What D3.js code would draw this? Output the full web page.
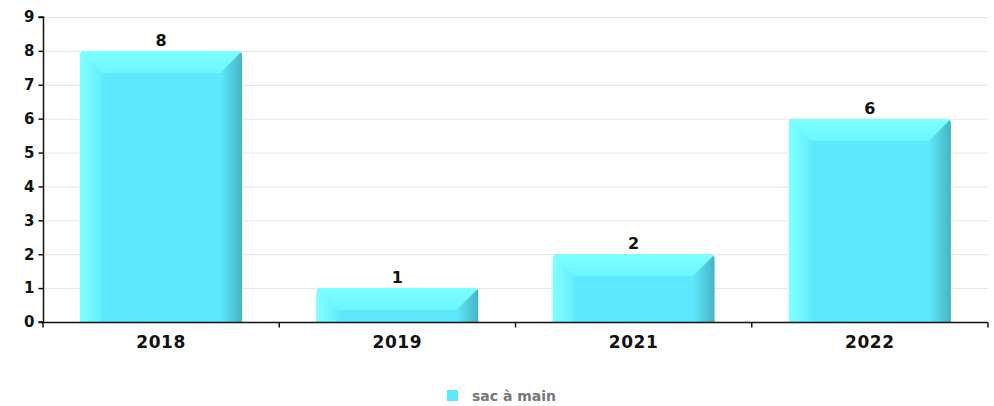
<!DOCTYPE html>
<html><head><meta charset="utf-8">
<script src="https://cdn.jsdelivr.net/npm/d3@7"></script>
<style>body{margin:0;background:#fff}svg{display:block}text{font-family:"DejaVu Sans",sans-serif;font-weight:bold}</style>
</head><body><svg id="c" width="994" height="406"></svg>
<script>
const categories = ["2018","2019","2021","2022"];
const values = [8,1,2,6];
const yTicks = [0,1,2,3,4,5,6,7,8,9];
const seriesName = "sac à main";

const svg = d3.select("#c");
const m = {l:43, r:988, t:17, b:322};
const x = d3.scaleBand().domain(categories).range([m.l, m.r]).paddingInner(0.314).paddingOuter(0.157);
const y = d3.scaleLinear().domain([0,9]).range([m.b, m.t]);

const defs = svg.append("defs");
const gl = defs.append("linearGradient").attr("id","gl").attr("x1",0).attr("x2",1).attr("y1",0).attr("y2",0);
gl.append("stop").attr("offset",0).attr("stop-color","#84ffff");
gl.append("stop").attr("offset",1).attr("stop-color","#62eefd");
const gr = defs.append("linearGradient").attr("id","gr").attr("x1",0).attr("x2",1).attr("y1",0).attr("y2",0);
gr.append("stop").attr("offset",0).attr("stop-color","#5de8fb");
gr.append("stop").attr("offset",1).attr("stop-color","#46b4c4");
const gt = defs.append("linearGradient").attr("id","gt").attr("x1",0).attr("x2",0).attr("y1",0).attr("y2",1);
gt.append("stop").attr("offset",0).attr("stop-color","#7cffff");
gt.append("stop").attr("offset",1).attr("stop-color","#6cf6fe");

// grid
svg.append("g").selectAll("line").data(yTicks.filter(d=>d>0)).join("line")
  .attr("x1",m.l).attr("x2",m.r).attr("y1",d=>y(d)+0.5).attr("y2",d=>y(d)+0.5)
  .attr("stroke","#e4e4e4").attr("stroke-width",1);

// bars
const bev = 22;
const bars = svg.append("g").selectAll("g").data(categories.map((c,i)=>({c,v:values[i]}))).join("g");
bars.each(function(d){
  const g = d3.select(this);
  const x0 = x(d.c), w = x.bandwidth(), x1 = x0+w;
  const yt = y(d.v), yb = y(0);
  const b = Math.min(bev, (yb-yt)*0.65);
  const r = 5;
  const clipId = "cl"+d.c;
  defs.append("clipPath").attr("id",clipId).append("path")
    .attr("d",`M${x0},${yb} L${x0},${yt+r} Q${x0},${yt} ${x0+r},${yt} L${x1-r},${yt} Q${x1},${yt} ${x1},${yt+r} L${x1},${yb} Z`);
  const gg = g.append("g").attr("clip-path",`url(#${clipId})`);
  gg.append("rect").attr("x",x0).attr("y",yt).attr("width",w).attr("height",yb-yt).attr("fill","#5de8fb");
  gg.append("path").attr("d",`M${x0},${yt} L${x0+bev},${yt+b} L${x0+bev},${yb} L${x0},${yb} Z`).attr("fill","url(#gl)");
  gg.append("path").attr("d",`M${x1},${yt} L${x1-bev},${yt+b} L${x1-bev},${yb} L${x1},${yb} Z`).attr("fill","url(#gr)");
  gg.append("path").attr("d",`M${x0},${yt} L${x1},${yt} L${x1-bev},${yt+b} L${x0+bev},${yt+b} Z`).attr("fill","url(#gt)");
  g.append("text").attr("x",x0+w/2).attr("y",yt-5).attr("text-anchor","middle")
    .attr("font-size",16).attr("fill","#111").text(d.v);
});

// y axis
const ya = svg.append("g").attr("transform",`translate(${m.l+0.5},0)`)
  .call(d3.axisLeft(y).tickValues(yTicks).tickSize(5).tickPadding(4).tickFormat(d3.format("d")));
ya.select(".domain").attr("stroke","#111").attr("stroke-width",1.5).attr("d",`M-5,${m.b}H0V${m.t}H-5`);
ya.selectAll(".tick line").attr("stroke","#111").attr("stroke-width",1.5);
ya.selectAll("text").attr("font-size",15).attr("fill","#111").attr("font-family","DejaVu Sans").attr("font-weight","bold");

// x axis
const xa = svg.append("g").attr("transform",`translate(0,${m.b+0.5})`);
xa.append("line").attr("x1",m.l).attr("x2",m.r).attr("stroke","#111").attr("stroke-width",1.5);
const bounds = categories.map(c=>x(c)-x.step()*x.paddingInner()/2).concat([m.r]);
xa.selectAll("line.t").data(bounds).join("line").attr("class","t")
  .attr("x1",d=>d).attr("x2",d=>d).attr("y1",0).attr("y2",5).attr("stroke","#111").attr("stroke-width",1.5);
xa.selectAll("text").data(categories).join("text")
  .attr("x",d=>x(d)+x.bandwidth()/2).attr("y",25).attr("text-anchor","middle")
  .attr("font-size",17).attr("letter-spacing",0.6).attr("fill","#111").text(d=>d);

// legend
const lg = svg.append("g");
lg.append("rect").attr("x",447).attr("y",390).attr("width",11).attr("height",11).attr("fill","#5de8fb");
lg.append("text").attr("x",472).attr("y",401).attr("font-size",14).attr("fill","#777").text(seriesName);
</script></body></html>
